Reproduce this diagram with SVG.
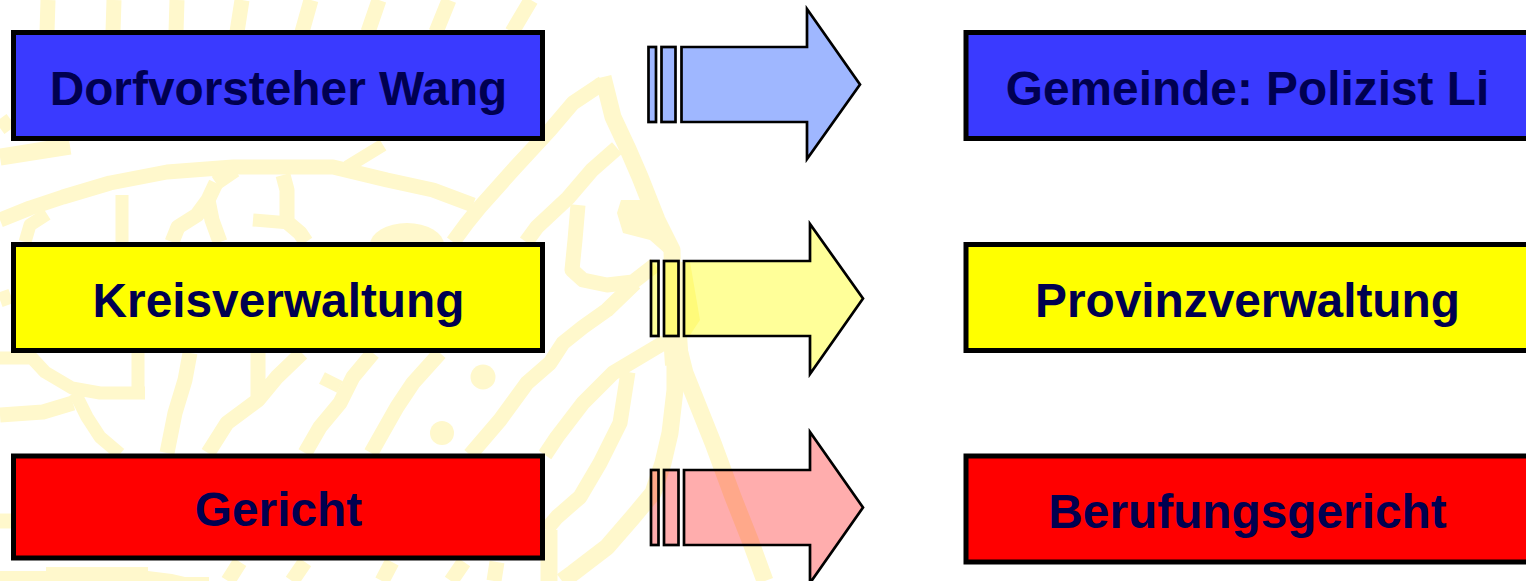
<svg xmlns="http://www.w3.org/2000/svg" width="1526" height="581" viewBox="0 0 1526 581">
<style>
.wm{fill:none;stroke:#FFF8CC;stroke-width:15;stroke-linejoin:round;stroke-linecap:butt}
.w13{stroke-width:13}
.w17{stroke-width:17}
.dot{fill:#FFF8CC}
.box{stroke:#000;stroke-width:5}
.lbl{font-family:"Liberation Sans",Arial,sans-serif;font-weight:700;font-size:47.800px;fill:#000050;text-anchor:middle}
.arr{stroke:#000;stroke-width:2.700;stroke-linejoin:miter}
.blue{fill:#3A3AFF}.yellow{fill:#FFFF00}.red{fill:#FF0000}
.ablue{fill:#4070FF;fill-opacity:.5}.ayellow{fill:#FFFF00;fill-opacity:.4}.ared{fill:#FF0000;fill-opacity:.32}
</style>
<rect width="1526" height="581" fill="#fff"/>
<g id="watermark">
<path class="wm" d="M48 0L47 32M114 0L113 32M177 0L176 32M242 0L237 32M311 0L302 32M379 0L368 32M449 0L436 32M531 0L512 32"/>
<path class="wm w17" d="M0 157L70 146"/>
<path class="wm" d="M0 220L30 208L63 197L110 183L167 172L233 167L333 167L387 180L433 190L473 205"/>
<path class="wm w13" d="M25 242L30 225L47 214M347 167L383 145M122 195L122 242"/>
<path class="wm" d="M216 183L208 200L197 215L178 227L172 242M208 200L212 220L220 242"/>
<path class="wm" d="M216 183L235 170M283 175L287 190L287 222L300 233L306 242"/>
<path class="wm w13" d="M253 220L290 223"/>
<ellipse class="dot" cx="407" cy="245" rx="37" ry="22"/>
<path class="wm" d="M453 242L467 223L480 207L513 170L550 130L573 103L603 83"/>
<path class="wm w17" d="M603 77L613 117L627 147L640 177L657 220L672 250L674 340"/>
<path class="wm" d="M617 148L592 170L568 198L537 227L526 242"/>
<path class="wm" d="M578 205L575 240L572 270L583 280L607 285L633 282L655 265"/>
<path class="dot" d="M621 200L655 200L665 230L675 262L650 240L623 233L617 213Z"/>
<path class="dot" d="M676 262L690 262L700 320L690 335L676 335Z"/>
<path class="wm w13" d="M0 358L32 358L45 372L72 388L100 393L145 393M138 353L138 390M75 393L87 417L100 437L120 454"/>
<path class="wm" d="M0 415L43 412L73 403M190 353L185 380L175 413L167 453M258 353L258 400L227 423L208 453M302 353L277 377L258 400M373 353L353 377L340 403L320 427L305 453M440 353L413 383L397 407L380 437L371 453"/>
<path class="wm w13" d="M322 378L340 387"/>
<circle class="dot" cx="483" cy="377" r="12.500"/>
<circle class="dot" cx="442" cy="433" r="12"/>
<path class="wm" d="M635 283L607 310L583 327L563 343L550 363L527 383L500 420L470 455"/>
<path class="wm" d="M665 342L613 373L583 403L557 437L545 455M628 372L620 423L600 463L580 497L557 517L546 530"/>
<path class="wm w17" d="M549 530L549 581"/>
<path class="wm" style="stroke-width:24" d="M675 335L677 365"/>
<path class="wm w17" d="M675 350L675 390L670 433L663 463L653 493L633 517L607 547L573 573L562 581"/>
<path class="wm w17" d="M678 345L685 373L697 403L713 443L733 497L750 540L765 581"/>
<path class="dot" d="M0 571L46 571L46 567L148 567L148 571L172 574L185 577L209 577L209 581L0 581Z"/>
<path class="wm" d="M240 562L228 581M305 562L292 581M392 562L382 581M464 562L451 581M497 562L494 581"/>
<path class="wm" d="M0 128L11 120"/>
<path class="wm" d="M0 521L11 521"/>
<path class="wm" d="M0 300L11 296"/>
</g>
<g id="connectors">
<g id="arrow-1" class="arr">
<path class="ablue" d="M681.5 47H807V9L860 84.500L807 159V122H681.500Z"/>
<rect class="ablue" x="648.500" y="47" width="7.500" height="75"/>
<rect class="ablue" x="661.500" y="47" width="14" height="75"/>
</g>
<g id="arrow-2" class="arr">
<path class="ayellow" d="M684 261H810V224L863 298.500L810 374V336H684Z"/>
<rect class="ayellow" x="651" y="261" width="7.500" height="75"/>
<rect class="ayellow" x="664" y="261" width="14.500" height="75"/>
</g>
<g id="arrow-3" class="arr">
<path class="ared" d="M684 470H810V432L863 507.500L810 583V545H684Z"/>
<rect class="ared" x="651" y="470" width="7.500" height="75"/>
<rect class="ared" x="664" y="470" width="14.500" height="75"/>
</g>
</g>
<g id="node-dorfvorsteher"><rect class="box blue" x="13.500" y="32.500" width="529" height="106"/><text class="lbl" x="278.500" y="105">Dorfvorsteher Wang</text></g>
<g id="node-kreisverwaltung"><rect class="box yellow" x="13.500" y="244.500" width="529" height="106"/><text class="lbl" x="278.500" y="317">Kreisverwaltung</text></g>
<g id="node-gericht"><rect class="box red" x="13.500" y="456" width="529" height="102"/><text class="lbl" x="278.500" y="526">Gericht</text></g>
<g id="node-gemeinde"><rect class="box blue" x="966" y="32.500" width="570" height="106"/><text class="lbl" x="1247.500" y="105">Gemeinde: Polizist Li</text></g>
<g id="node-provinzverwaltung"><rect class="box yellow" x="966" y="244.500" width="570" height="106"/><text class="lbl" x="1247.500" y="317">Provinzverwaltung</text></g>
<g id="node-berufungsgericht"><rect class="box red" x="966" y="456" width="570" height="106"/><text class="lbl" x="1247.500" y="528">Berufungsgericht</text></g>
</svg>
